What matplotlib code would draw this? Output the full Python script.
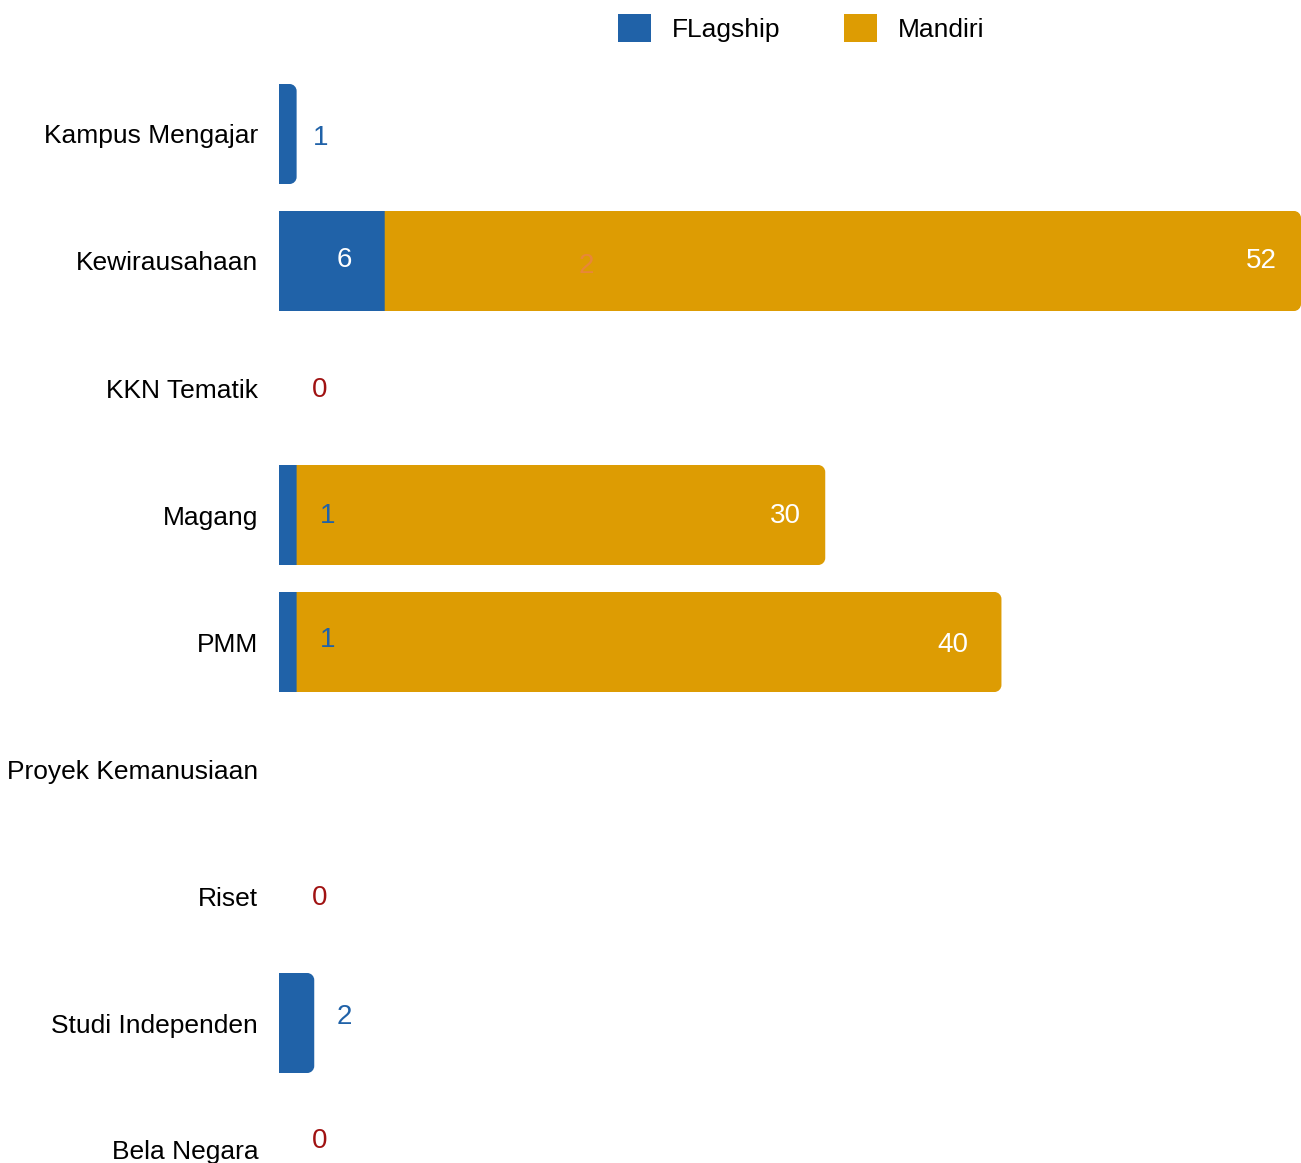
import matplotlib
matplotlib.use("Agg")
import matplotlib.pyplot as plt
from matplotlib.path import Path
from matplotlib.patches import PathPatch, Patch

plt.rcParams['font.family'] = ['Liberation Sans', 'DejaVu Sans']

categories = ["Kampus Mengajar", "Kewirausahaan", "KKN Tematik", "Magang", "PMM",
              "Proyek Kemanusiaan", "Riset", "Studi Independen", "Bela Negara"]
flagship = [1, 6, 0, 1, 1, 0, 0, 2, 0]
mandiri = [0, 52, 0, 30, 40, 0, 0, 0, 0]
zero_label_rows = ["KKN Tematik", "Riset", "Bela Negara"]
extra_note = {"Kewirausahaan": "2"}

BLUE = "#2062a8"
ORANGE = "#dd9c03"
RED = "#a01212"
NOTE = "#e8873a"

W, H, DPI = 1301, 1163, 100
fig = plt.figure(figsize=(W / DPI, H / DPI), dpi=DPI)
left_px, top_px = 279, 70.5
ax = fig.add_axes([left_px / W, 0, 1 - left_px / W, (H - top_px) / H])
row_px = 127.0
xmax = 58
ax.set_xlim(0, xmax)
ax.set_ylim(-0.5 + (H - top_px) / row_px, -0.5)

px_x = (W - left_px) / xmax
px_y = row_px
r_px = 7
rx, ry = r_px / px_x, r_px / px_y
bh = 100 / 127


def rounded_right(x0, y0, w, h):
    x1, y1 = x0 + w, y0 + h
    k = 0.5523
    verts = [(x0, y0), (x1 - rx, y0),
             (x1 - rx + k * rx, y0), (x1, y0 + ry - k * ry), (x1, y0 + ry),
             (x1, y1 - ry),
             (x1, y1 - ry + k * ry), (x1 - rx + k * rx, y1), (x1 - rx, y1),
             (x0, y1), (x0, y0)]
    codes = [Path.MOVETO, Path.LINETO,
             Path.CURVE4, Path.CURVE4, Path.CURVE4,
             Path.LINETO,
             Path.CURVE4, Path.CURVE4, Path.CURVE4,
             Path.LINETO, Path.CLOSEPOLY]
    return Path(verts, codes)


ypos = list(range(len(categories)))
b1 = ax.barh(ypos, flagship, height=bh, color=BLUE, linewidth=0)
b2 = ax.barh(ypos, mandiri, left=flagship, height=bh, color=ORANGE, linewidth=0)

# round the right end of each stacked bar
for i in ypos:
    last = b2[i] if mandiri[i] > 0 else (b1[i] if flagship[i] > 0 else None)
    if last is None:
        continue
    x0, y0 = last.get_x(), last.get_y()
    w, h = last.get_width(), last.get_height()
    last.set_visible(False)
    ax.add_patch(PathPatch(rounded_right(x0, y0, w, h), facecolor=last.get_facecolor(),
                           linewidth=0))

fs = 19
vfs = 20


def lab(txt, x, y, dx, dy, color):
    ax.annotate(txt, (x, y), xytext=(dx, -dy), textcoords="offset pixels",
                ha="center", va="center", fontsize=vfs, color=color)


for i, c in enumerate(categories):
    f, m = flagship[i], mandiri[i]
    if c in zero_label_rows:
        lab("0", 0, i, 41, -9 if i == len(categories) - 1 else 2, RED)
        continue
    if f == 0 and m == 0:
        continue
    if m == 0:
        lab(str(f), f, i, 24 if f == 1 else 30, 4 if f == 1 else -6, BLUE)
    else:
        if f >= 3:
            lab(str(f), f, i, -40, -1, "white")
        else:
            lab(str(f), f, i, 31, 1 if m < 35 else -2, BLUE)
        lab(str(m), f + m, i, -40 if m != 40 else -49, 1 if m < 35 else 3 if m == 40 else 0, "white")
    if c in extra_note:
        lab(extra_note[c], f, i, 202, 5, NOTE)

ax.set_yticks(ypos)
ax.set_yticklabels(categories, fontsize=fs)
ax.tick_params(axis="y", length=0, pad=15)
for t in ax.get_yticklabels():
    t.set_y(t.get_position()[1])
ax.set_xticks([])
for s in ax.spines.values():
    s.set_visible(False)

handles = [Patch(facecolor=BLUE, label="FLagship"), Patch(facecolor=ORANGE, label="Mandiri")]
fig.legend(handles=handles, loc="center", bbox_to_anchor=(801 / W, 1 - 28 / H), ncol=2,
           frameon=False, fontsize=fs, handlelength=1.25, handleheight=1.3,
           handletextpad=0.8, columnspacing=2.4, borderpad=0)

fig.savefig("out.png", dpi=DPI)
